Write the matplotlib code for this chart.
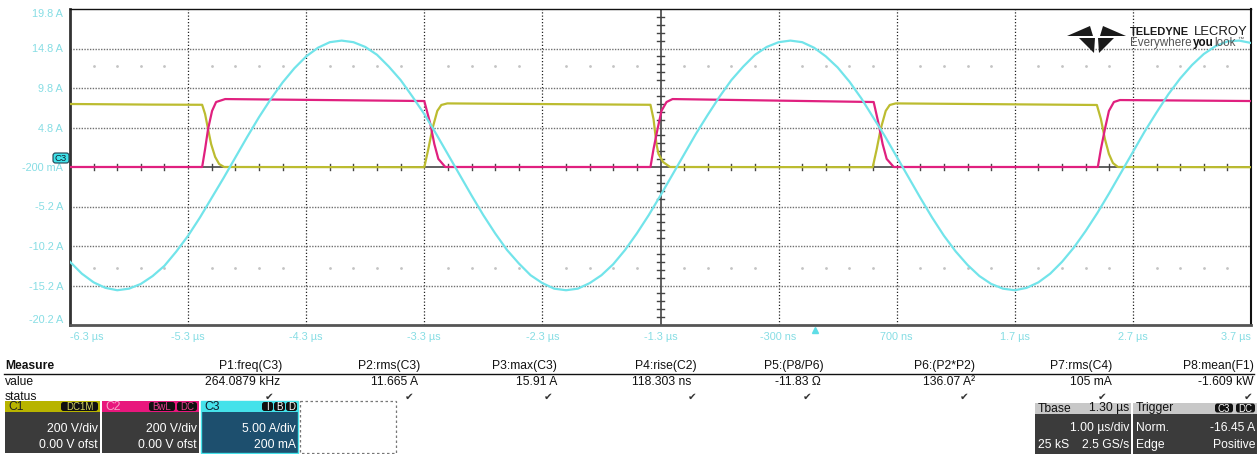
import numpy as np
import matplotlib
matplotlib.use('Agg')
import matplotlib.pyplot as plt
from matplotlib.patches import Rectangle, FancyBboxPatch, Polygon

plt.rcParams['font.family'] = ['Liberation Sans', 'DejaVu Sans']

# ---------------- data ----------------
time_ticks_us = [-6.3, -5.3, -4.3, -3.3, -2.3, -1.3, -0.3, 0.7, 1.7, 2.7, 3.7]
time_tick_labels = ['-6.3 µs', '-5.3 µs', '-4.3 µs', '-3.3 µs', '-2.3 µs', '-1.3 µs',
                    '-300 ns', '700 ns', '1.7 µs', '2.7 µs', '3.7 µs']
c3_tick_values = [19.8, 14.8, 9.8, 4.8, -0.2, -5.2, -10.2, -15.2, -20.2]
c3_tick_labels = ['19.8 A', '14.8 A', '9.8 A', '4.8 A', '-200 mA', '-5.2 A', '-10.2 A', '-15.2 A', '-20.2 A']

# C1 (yellow) in volts
c1_t = [-6.300, -5.622, -5.181, -5.156, -5.131, -5.105, -5.071, -5.037, -4.995,
        -3.300, -3.266, -3.232, -3.190, -3.156, -3.105,
        -1.385, -1.359, -1.334, -1.317, -1.278, -1.219,
        0.497, 0.531, 0.564, 0.607, 0.641, 0.692,
        2.395, 2.429, 2.463, 2.497, 2.531, 2.573, 3.700]
c1_v = [319, 316, 315, 268, 192, 116, 51, 15, 0,
        -1, 91, 192, 284, 314, 322,
        315, 243, 116, 66, 25, 0,
        -1, 91, 192, 284, 314, 322,
        314, 243, 142, 66, 20, 0, -1]

# C2 (magenta) in volts
c2_t = [-6.300, -5.181, -5.156, -5.131, -5.097, -5.063, -4.986,
        -3.300, -3.249, -3.215, -3.181, -3.122,
        -1.385, -1.359, -1.325, -1.292, -1.249, -1.198,
        0.505, 0.547, 0.581, 0.615, 0.675,
        2.403, 2.429, 2.463, 2.497, 2.539, 2.590, 3.700]
c2_v = [0, 0, 91, 192, 284, 329, 344,
        334, 218, 116, 41, 0,
        0, 91, 192, 284, 329, 344,
        329, 218, 116, 41, 0,
        0, 91, 192, 284, 329, 339, 334]

# C3 (cyan) current in amps
c3_t = [-6.3, -6.2, -6.1, -6.0, -5.9, -5.8, -5.7, -5.6, -5.5, -5.4,
        -5.3, -5.2, -5.1, -5.0, -4.9, -4.8, -4.7, -4.6, -4.5, -4.4,
        -4.3, -4.2, -4.1, -4.0, -3.9, -3.8, -3.7, -3.6, -3.5, -3.4,
        -3.3, -3.2, -3.1, -3.0, -2.9, -2.8, -2.7, -2.6, -2.5, -2.4,
        -2.3, -2.2, -2.1, -2.0, -1.9, -1.8, -1.7, -1.6, -1.5, -1.4,
        -1.3, -1.2, -1.1, -1.0, -0.9, -0.8, -0.7, -0.6, -0.5, -0.4,
        -0.3, -0.2, -0.1, 0.0, 0.1, 0.2, 0.3, 0.4, 0.5, 0.6,
        0.7, 0.8, 0.9, 1.0, 1.1, 1.2, 1.3, 1.4, 1.5, 1.6,
        1.7, 1.8, 1.9, 2.0, 2.1, 2.2, 2.3, 2.4, 2.5, 2.6,
        2.7, 2.8, 2.9, 3.0, 3.1, 3.2, 3.3, 3.4, 3.5, 3.6,
        3.7]
c3_i = [-12.2, -13.7, -14.8, -15.5, -15.8, -15.6, -15.0, -14.0, -12.7, -10.9,
        -8.9, -6.6, -4.1, -1.6, 1.0, 3.6, 6.1, 8.4, 10.5, 12.3,
        13.8, 14.9, 15.6, 15.8, 15.6, 15.0, 14.0, 12.5, 10.8, 8.7,
        6.5, 4.0, 1.4, -1.2, -3.8, -6.3, -8.6, -10.7, -12.4, -13.9,
        -14.9, -15.6, -15.8, -15.6, -14.9, -13.9, -12.5, -10.7, -8.6, -6.3,
        -3.8, -1.2, 1.4, 4.0, 6.4, 8.7, 10.8, 12.5, 14.0, 15.0,
        15.6, 15.8, 15.6, 14.9, 13.8, 12.4, 10.6, 8.5, 6.1, 3.7,
        1.1, -1.5, -4.1, -6.6, -8.9, -10.9, -12.6, -14.0, -15.0, -15.6,
        -15.8, -15.5, -14.8, -13.7, -12.2, -10.4, -8.3, -6.0, -3.5, -0.9,
        1.7, 4.3, 6.7, 9.0, 11.0, 12.7, 14.1, 15.1, 15.7, 15.8,
        15.5]

c1_v_per_div = 200.0
c2_v_per_div = 200.0
c3_a_per_div = 5.0
c3_offset_a = 0.2

meas_names = ['P1:freq(C3)', 'P2:rms(C3)', 'P3:max(C3)', 'P4:rise(C2)',
              'P5:(P8/P6)', 'P6:(P2*P2)', 'P7:rms(C4)', 'P8:mean(F1)']
meas_values = ['264.0879 kHz', '11.665 A', '15.91 A', '118.303 ns',
               '-11.83 Ω', '136.07 A²', '105 mA', '-1.609 kW']

# ---------------- figure ----------------
W, H = 1258, 454
fig = plt.figure(figsize=(W / 100, H / 100), dpi=100)
fig.patch.set_facecolor('white')

L, R, T, B = 70, 1251, 9, 325
ax = fig.add_axes([L / W, (H - B) / H, (R - L) / W, (B - T) / H])
ax.set_xlim(-6.3, 3.7)
ax.set_ylim(-4, 4)
ax.set_facecolor('white')

YEL = '#bcbc30'
MAG = '#e0207f'
CYA = '#72e4ea'
LBL = '#86dde4'

# graticule
for x in time_ticks_us[1:-1]:
    if abs(x + 1.3) < 1e-6:
        continue
    ax.axvline(x, color='#222222', lw=0.9, ls=(0, (1, 1.6)), zorder=1)
for y in [3, 2, 1, -1, -2, -3]:
    ax.axhline(y, color='#707070', lw=1.0, ls=(0, (1, 1)), zorder=1)
ax.axhline(0, color='#444444', lw=1.2, zorder=1)
ax.axvline(-1.3, color='#444444', lw=1.2, zorder=1)
minor_x = [-6.3 + 0.2 * k for k in range(51) if k % 5 != 0]
minor_y = [-4 + 0.2 * k for k in range(41) if k % 5 != 0]
for x in minor_x:
    ax.plot([x, x], [-0.08, 0.08], color='#444444', lw=1.0, zorder=1)
for y in minor_y:
    ax.plot([-1.33, -1.27], [y, y], color='#444444', lw=1.0, zorder=1)
ax.plot(minor_x, [2.55] * len(minor_x), ls='none', marker='.', ms=2.0, color='#c4c4c4', zorder=1)
ax.plot(minor_x, [-2.55] * len(minor_x), ls='none', marker='.', ms=2.0, color='#c4c4c4', zorder=1)

# traces
ax.plot(c1_t, np.array(c1_v) / c1_v_per_div, color=YEL, lw=1.6, zorder=3)
ax.plot(c2_t, np.array(c2_v) / c2_v_per_div, color=MAG, lw=1.6, zorder=4)
ax.plot(c3_t, (np.array(c3_i) + c3_offset_a) / c3_a_per_div, color=CYA, lw=1.6, zorder=5)

# axes labels
ax.set_yticks([(v + c3_offset_a) / c3_a_per_div for v in c3_tick_values])
ax.set_yticklabels(c3_tick_labels)
ax.set_xticks(time_ticks_us)
ax.set_xticklabels(time_tick_labels)
ax.tick_params(axis='both', length=0, labelcolor=LBL, labelsize=7.8)
ax.tick_params(axis='y', pad=5)
ax.tick_params(axis='x', pad=5)
yl = ax.get_yticklabels()
yl[0].set_va('top')
yl[-1].set_va('bottom')
xl = ax.get_xticklabels()
xl[0].set_ha('left')
xl[-1].set_ha('right')

ax.spines['left'].set_color('#333333'); ax.spines['left'].set_linewidth(2.0)
ax.spines['bottom'].set_color('#555555'); ax.spines['bottom'].set_linewidth(2.0)
ax.spines['top'].set_color('#111111'); ax.spines['top'].set_linewidth(1.0)
ax.spines['right'].set_color('#111111'); ax.spines['right'].set_linewidth(1.5)

# ---------------- overlay (pixel coordinates) ----------------
ov = fig.add_axes([0, 0, 1, 1], zorder=10)
ov.set_xlim(0, W)
ov.set_ylim(H, 0)
ov.axis('off')
ov.patch.set_alpha(0)

FS = 8.7


def badge(x0, x1, y0, y1, text, fc, tc, fs=7.5, ec='none'):
    ov.add_patch(FancyBboxPatch((x0, y0), x1 - x0, y1 - y0,
                                boxstyle='round,pad=0,rounding_size=2.5',
                                fc=fc, ec=ec, lw=0.8))
    ov.text((x0 + x1) / 2, (y0 + y1) / 2 + 0.5, text, color=tc, fontsize=fs,
            ha='center', va='center')


# C3 marker on axis
badge(53, 69, 153, 163, 'C3', '#3fe3ea', '#102030', fs=6.8, ec='#204050')

# trigger marker
ov.plot([815], [330], marker='^', ms=5, color='#5fdde6', ls='none')

# logo
logo_polys = [
    [(1067, 36), (1090, 26), (1093, 36)],
    [(1126, 36), (1103, 26), (1100, 36)],
    [(1079, 38), (1095, 38), (1094, 53)],
    [(1098, 38), (1114, 38), (1099, 53)],
]
for p in logo_polys:
    ov.add_patch(Polygon(p, closed=True, fc='#1a1a1a', ec='none'))
ov.text(1130, 32, 'TELEDYNE', fontsize=8.0, fontweight='bold', color='#1a1a1a',
        ha='left', va='center')
ov.text(1248, 32, 'LECROY', fontsize=9.4, color='#1a1a1a', ha='right', va='center')
ov.text(1130, 43, 'Everywhere', fontsize=8.4, color='#555555', ha='left', va='center')
ov.text(1193, 43, 'you', fontsize=8.4, color='#111111', fontweight='bold', ha='left', va='center')
ov.text(1214, 43, 'look', fontsize=8.4, color='#555555', ha='left', va='center')
ov.text(1237, 39, '™', fontsize=4.5, color='#555555', ha='left', va='center')

# measurement table
ov.text(5, 366, 'Measure', fontsize=FS, fontweight='bold', ha='left', va='center', color='#111111')
ov.plot([4, 1254], [373.5, 373.5], color='#111111', lw=1.0)
ov.text(5, 382, 'value', fontsize=FS, ha='left', va='center', color='#111111')
ov.text(5, 396.5, 'status', fontsize=FS, ha='left', va='center', color='#111111')
name_right = [282, 420, 557, 697, 824, 975, 1112, 1254]
value_right = [280, 418, 557, 691, 821, 975, 1112, 1254]
check_x = [269, 409, 548, 692, 807, 964, 1102, 1248]
for i in range(len(meas_names)):
    ov.text(name_right[i], 366, meas_names[i], fontsize=FS, ha='right', va='center', color='#111111')
    ov.text(value_right[i], 382, meas_values[i], fontsize=FS, ha='right', va='center', color='#111111')
    ov.text(check_x[i], 397, '✔', fontsize=7.5, ha='center', va='center', color='#333333',
            family=['DejaVu Sans'])

DARK = '#3b3b3b'


def channel_box(x0, x1, hdr_color, body_color, name, name_color, line1, line2, edge=None):
    ov.add_patch(Rectangle((x0, 401), x1 - x0, 11, fc=hdr_color, ec='none'))
    ov.add_patch(Rectangle((x0, 412), x1 - x0, 41, fc=body_color, ec='none'))
    if edge:
        ov.add_patch(Rectangle((x0, 401), x1 - x0, 52, fc='none', ec=edge, lw=1.0))
    ov.text(x0 + 3, 407, name, fontsize=FS, color=name_color, ha='left', va='center')
    ov.text(x1 - 2, 429.5, line1, fontsize=FS, color='white', ha='right', va='center')
    ov.text(x1 - 2, 445.5, line2, fontsize=FS, color='white', ha='right', va='center')


channel_box(5, 100, '#b8b400', DARK, 'C1', '#222222', '200 V/div', '0.00 V ofst')
badge(61, 98, 402, 411, 'DC1M', '#111111', '#d8d860', fs=7)
channel_box(102, 199, '#e8177d', DARK, 'C2', '#f6a3c8', '200 V/div', '0.00 V ofst')
badge(149, 175, 402, 411, 'BwL', '#111111', '#e8408f', fs=7)
badge(177, 197, 402, 411, 'DC', '#111111', '#e8408f', fs=7)
channel_box(201, 298, '#45e2ea', '#1d4f6e', 'C3', '#102030', '5.00 A/div', '200 mA', edge='#45e2ea')
badge(262, 273, 402, 411, 'I', '#111111', '#ffffff', fs=7)
badge(274, 285, 402, 411, 'B', '#111111', '#ffffff', fs=7)
badge(286, 297, 402, 411, 'D', '#111111', '#ffffff', fs=7)
ov.add_patch(Rectangle((300, 401), 96, 52, fc='none', ec='#777777', lw=0.9, ls=(0, (2, 2))))

# timebase box
ov.add_patch(Rectangle((1035, 403), 96, 10.5, fc='#c8c8c8', ec='none'))
ov.add_patch(Rectangle((1035, 413.5), 96, 40, fc=DARK, ec='none'))
ov.text(1038, 408.5, 'Tbase', fontsize=FS, color='#111111', ha='left', va='center')
ov.text(1129, 408.5, '1.30 µs', fontsize=FS, color='#111111', ha='right', va='center')
ov.text(1129, 428, '1.00 µs/div', fontsize=FS, color='white', ha='right', va='center')
ov.text(1038, 445, '25 kS', fontsize=FS, color='white', ha='left', va='center')
ov.text(1129, 445, '2.5 GS/s', fontsize=FS, color='white', ha='right', va='center')

# trigger box
ov.add_patch(Rectangle((1133, 403), 124, 10.5, fc='#c8c8c8', ec='none'))
ov.add_patch(Rectangle((1133, 413.5), 124, 40, fc=DARK, ec='none'))
ov.text(1136, 408.5, 'Trigger', fontsize=FS, color='#111111', ha='left', va='center')
badge(1215, 1233, 403.5, 412.5, 'C3', '#111111', '#ffffff', fs=7)
badge(1236, 1255, 403.5, 412.5, 'DC', '#111111', '#ffffff', fs=7)
ov.text(1136, 428, 'Norm.', fontsize=FS, color='white', ha='left', va='center')
ov.text(1255, 428, '-16.45 A', fontsize=FS, color='white', ha='right', va='center')
ov.text(1136, 445, 'Edge', fontsize=FS, color='white', ha='left', va='center')
ov.text(1255, 445, 'Positive', fontsize=FS, color='white', ha='right', va='center')

fig.savefig('out.png', dpi=100, facecolor='white')
